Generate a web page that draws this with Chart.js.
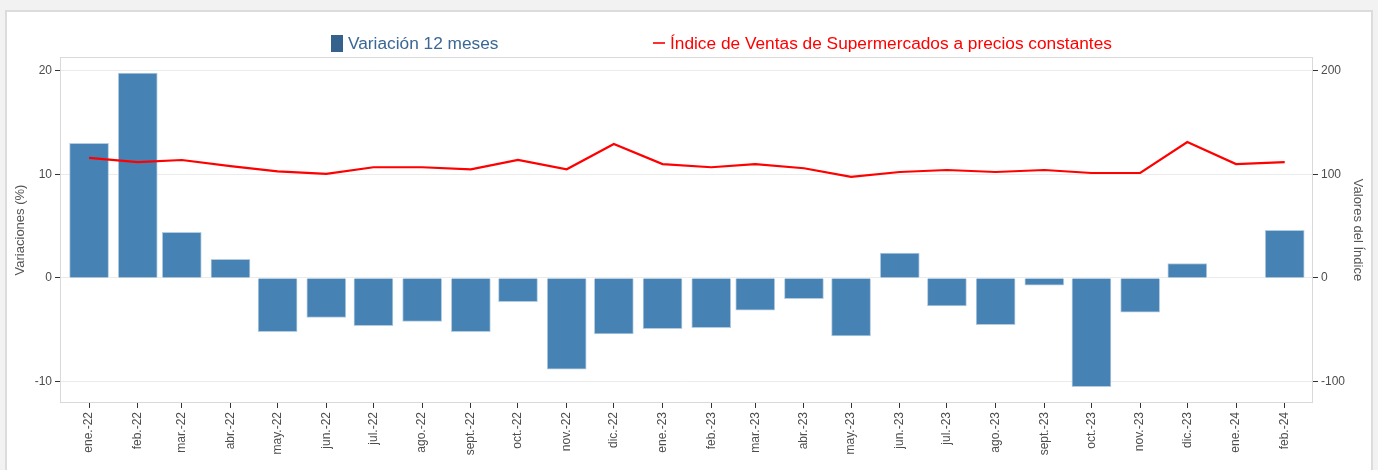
<!DOCTYPE html>
<html>
<head>
<meta charset="utf-8">
<script src="https://cdn.jsdelivr.net/npm/chart.js@4"></script>
<style>
  body { margin: 0; background: #f2f2f2; font-family: 'Liberation Sans', Arial, sans-serif; }
  #wrap { position: relative; width: 1378px; height: 470px; overflow: hidden; }
  #panel { position: absolute; left: 5px; top: 10px; width: 1364px; height: 480px; background: #fff; border: 2px solid #dcdcdc; }
  #chart { position: absolute; left: 0; top: 0; }
  .leg { position: absolute; top: 33px; font-size: 17.3px; line-height: 20px; white-space: nowrap; }
  #leg1 { left: 331px; color: #3a6795; }
  #leg1 .box { display: inline-block; width: 12px; height: 17px; background: #35618d; vertical-align: -3px; margin-right: 5px; }
  #leg2 { left: 653px; color: #ff0000; }
  #leg2 .dash { display: inline-block; width: 12px; height: 2px; background: #ff3030; vertical-align: 5px; margin-right: 5px; }
</style>
</head>
<body>
<div id="wrap">
  <div id="panel"></div>
  <canvas id="chart" width="1378" height="470"></canvas>
  <div class="leg" id="leg1"><span class="box"></span>Variación 12 meses</div>
  <div class="leg" id="leg2"><span class="dash"></span>Índice de Ventas de Supermercados a precios constantes</div>
</div>
<script>
// meses (fecha de cada barra) y etiquetas del eje x
const months = ["2022-01-01","2022-02-01","2022-03-01","2022-04-01","2022-05-01","2022-06-01",
                "2022-07-01","2022-08-01","2022-09-01","2022-10-01","2022-11-01","2022-12-01",
                "2023-01-01","2023-02-01","2023-03-01","2023-04-01","2023-05-01","2023-06-01",
                "2023-07-01","2023-08-01","2023-09-01","2023-10-01","2023-11-01","2023-12-01",
                "2024-01-01","2024-02-01"];
const monthLabels = ["ene.-22","feb.-22","mar.-22","abr.-22","may.-22","jun.-22","jul.-22","ago.-22",
                     "sept.-22","oct.-22","nov.-22","dic.-22","ene.-23","feb.-23","mar.-23","abr.-23",
                     "may.-23","jun.-23","jul.-23","ago.-23","sept.-23","oct.-23","nov.-23","dic.-23",
                     "ene.-24","feb.-24"];

// variacion 12 meses (%)
const variacion = [13.0, 19.8, 4.4, 1.8, -5.2, -3.8, -4.6, -4.2, -5.2, -2.3, -8.8, -5.4,
                   -4.9, -4.8, -3.1, -2.0, -5.6, 2.4, -2.7, -4.5, -0.7, -10.5, -3.3, 1.4,
                   0, 4.6];

// indice de ventas a precios constantes
const indice = [116, 112, 114, 108, 103, 100.5, 107, 107, 105, 114, 105, 129.5,
                110, 107, 110, 106, 97.6, 102.4, 104.3, 102.4, 104.3, 101.4, 101.4, 131.4,
                110, 112];

const leftTicks = [-10, 0, 10, 20];
const rightTicks = [-100, 0, 100, 200];

// dias desde el primer mes, para el eje x
const day0 = Date.parse(months[0]);
const days = months.map(d => (Date.parse(d) - day0) / 86400000);

Chart.defaults.font.family = "'Liberation Sans', Arial, sans-serif";
Chart.defaults.color = "#4d4d4d";

// marco gris del panel
const framePlugin = {
    id: "frame",
    beforeDatasetsDraw(chart) {
        const a = chart.chartArea, ctx = chart.ctx;
        ctx.save();
        ctx.strokeStyle = "#d9d9d9";
        ctx.lineWidth = 1;
        ctx.strokeRect(a.left + 0.5, a.top + 0.5, a.right - a.left - 1, a.bottom - a.top - 1);
        ctx.restore();
    }
};

new Chart(document.getElementById("chart").getContext("2d"), {
    type: "bar",
    data: {
        datasets: [
            {
                type: "line",
                label: "Índice de Ventas de Supermercados a precios constantes",
                data: days.map((d, i) => ({x: d, y: indice[i]})),
                yAxisID: "y1",
                borderColor: "#ff0000",
                borderWidth: 2.2,
                pointRadius: 0,
                tension: 0,
                order: 0
            },
            {
                label: "Variación 12 meses",
                data: days.map((d, i) => ({x: d, y: variacion[i]})),
                yAxisID: "y",
                backgroundColor: "#4682b4",
                borderColor: "#b4cce0",
                borderWidth: 1,
                barThickness: 39,
                order: 1
            }
        ]
    },
    options: {
        responsive: false,
        animation: false,
        layout: { padding: { top: 57, left: 0, right: 0, bottom: 0 } },
        plugins: { legend: { display: false }, tooltip: { enabled: false } },
        scales: {
            x: {
                type: "linear",
                offset: false,
                min: -18.5,
                max: 779,
                afterBuildTicks: s => { s.ticks = days.map(v => ({value: v})); },
                afterFit: s => { s.height = 67; },
                grid: { offset: false, drawOnChartArea: false, tickColor: "#333", tickLength: 5 },
                border: { display: false },
                ticks: {
                    autoSkip: false, maxRotation: 90, minRotation: 90, padding: 4,
                    font: { size: 12 }, color: "#4d4d4d",
                    callback: (v, i) => monthLabels[i]
                }
            },
            y: {
                position: "left",
                min: -12.08,
                max: 21.35,
                afterBuildTicks: s => { s.ticks = leftTicks.map(v => ({value: v})); },
                afterFit: s => { s.width = 60; },
                grid: { color: "#ebebeb", tickColor: "#333", tickLength: 5 },
                border: { display: false },
                ticks: { font: { size: 12 }, color: "#4d4d4d", padding: 3 },
                title: { display: true, text: "Variaciones (%)", font: { size: 13 }, color: "#555", padding: { top: 13, bottom: 0 } }
            },
            y1: {
                position: "right",
                min: -120.8,
                max: 213.5,
                afterBuildTicks: s => { s.ticks = rightTicks.map(v => ({value: v})); },
                afterFit: s => { s.width = 65; },
                grid: { drawOnChartArea: false, tickColor: "#333", tickLength: 5 },
                border: { display: false },
                ticks: { font: { size: 12 }, color: "#4d4d4d", padding: 3 },
                title: { display: true, text: "Valores del Índice", font: { size: 13 }, color: "#555", padding: { top: 13, bottom: 0 } }
            }
        }
    },
    plugins: [framePlugin]
});
</script>
</body>
</html>
